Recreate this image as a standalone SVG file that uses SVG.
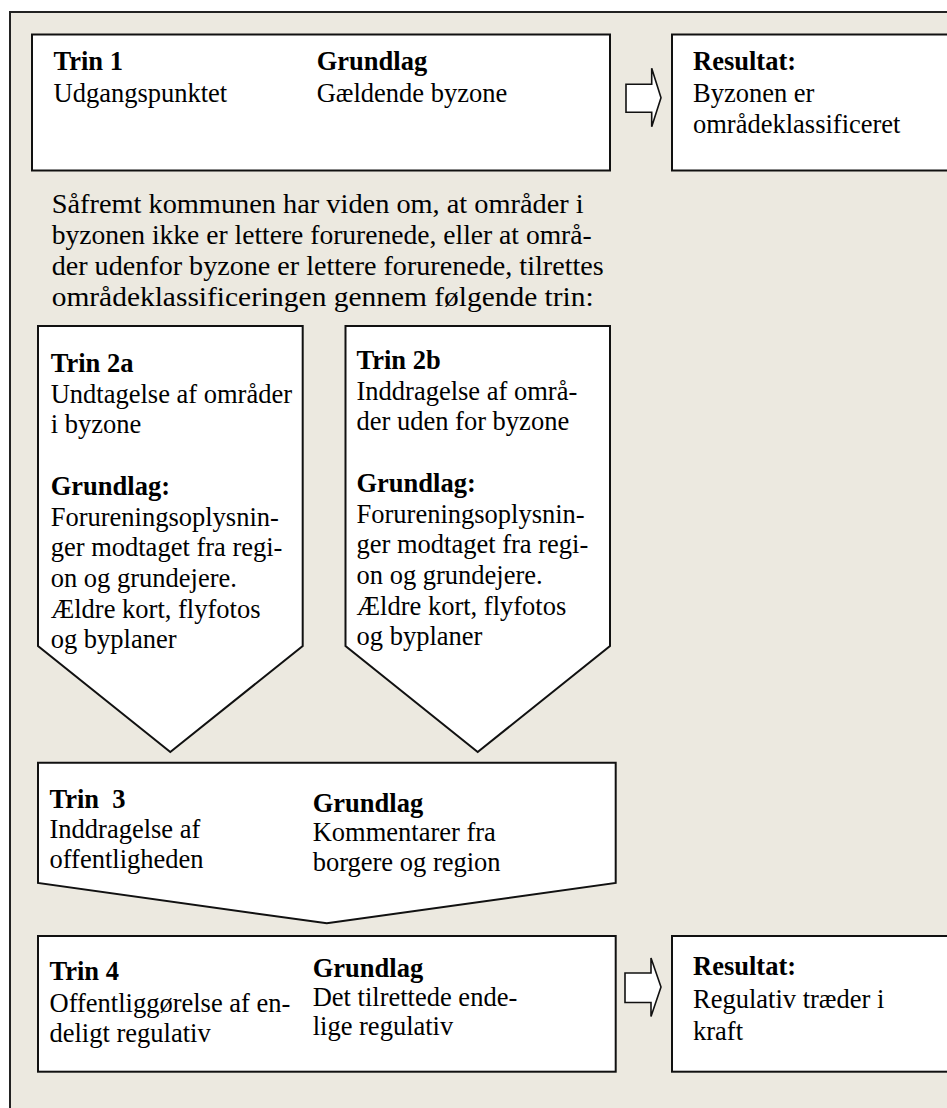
<svg xmlns="http://www.w3.org/2000/svg" width="947" height="1108" viewBox="0 0 947 1108">
<style>
.bg{fill:#ECE9E0;stroke:#222;stroke-width:2}
.box{fill:#fff;stroke:#111;stroke-width:2}
.arr{fill:#fff;stroke:#111;stroke-width:1.6;stroke-linejoin:miter}
text{font-family:"Liberation Serif","Times New Roman",serif;font-size:26.5px;fill:#000}
.b{font-weight:bold}
.p{font-size:27.5px}
</style>
<rect x="0" y="0" width="947" height="1108" fill="#fff"/>
<rect class="bg" x="10" y="12" width="1000" height="1200"/>

<g id="trin1">
<rect class="box" x="32" y="34.5" width="578" height="136"/>
<text class="b" x="53.5" y="70">Trin 1</text>
<text x="53.5" y="101.5">Udgangspunktet</text>
<text class="b" x="316.7" y="70">Grundlag</text>
<text x="316.7" y="101.5">Gældende byzone</text>
</g>

<g id="resultat1">
<rect class="box" x="672" y="34.5" width="400" height="136"/>
<text class="b" x="693" y="70">Resultat:</text>
<text x="693" y="101.5">Byzonen er</text>
<text x="693" y="133">områdeklassificeret</text>
</g>

<g id="tekst">
<text class="p" x="51.7" y="213" textLength="532" lengthAdjust="spacingAndGlyphs">Såfremt kommunen har viden om, at områder i</text>
<text class="p" x="51.7" y="244" textLength="540" lengthAdjust="spacingAndGlyphs">byzonen ikke er lettere forurenede, eller at områ-</text>
<text class="p" x="51.7" y="275" textLength="552" lengthAdjust="spacingAndGlyphs">der udenfor byzone er lettere forurenede, tilrettes</text>
<text class="p" x="51.7" y="306" textLength="542" lengthAdjust="spacingAndGlyphs">områdeklassificeringen gennem følgende trin:</text>
</g>

<g id="trin2a">
<polygon class="box" points="38,326 302.7,326 302.7,646 170.3,752 38,646"/>
<text class="b" x="50.7" y="372">Trin 2a</text>
<text x="50.7" y="402.7">Undtagelse af områder</text>
<text x="50.7" y="433.4">i byzone</text>
<text class="b" x="50.7" y="494.8">Grundlag:</text>
<text x="50.7" y="525.5">Forureningsoplysnin-</text>
<text x="50.7" y="556.2">ger modtaget fra regi-</text>
<text x="50.7" y="586.9">on og grundejere.</text>
<text x="50.7" y="617.6">Ældre kort, flyfotos</text>
<text x="50.7" y="648.3">og byplaner</text>
</g>

<g id="trin2b">
<polygon class="box" points="345.5,326 610,326 610,646 477.7,752 345.5,646"/>
<text class="b" x="356.5" y="369">Trin 2b</text>
<text x="356.5" y="399.7">Inddragelse af områ-</text>
<text x="356.5" y="430.4">der uden for byzone</text>
<text class="b" x="356.5" y="491.8">Grundlag:</text>
<text x="356.5" y="522.5">Forureningsoplysnin-</text>
<text x="356.5" y="553.2">ger modtaget fra regi-</text>
<text x="356.5" y="583.9">on og grundejere.</text>
<text x="356.5" y="614.6">Ældre kort, flyfotos</text>
<text x="356.5" y="645.3">og byplaner</text>
</g>

<g id="trin3">
<polygon class="box" points="38,762.7 615.7,762.7 615.7,883 326.8,923.3 38,883"/>
<text class="b" x="49.5" y="808" xml:space="preserve">Trin  3</text>
<text x="49.5" y="838">Inddragelse af</text>
<text x="49.5" y="868">offentligheden</text>
<text class="b" x="312.7" y="811.7">Grundlag</text>
<text x="312.7" y="841">Kommentarer fra</text>
<text x="312.7" y="871">borgere og region</text>
</g>

<g id="trin4">
<rect class="box" x="38" y="936" width="577.7" height="135.7"/>
<text class="b" x="49.5" y="980">Trin 4</text>
<text x="49.5" y="1011.5">Offentliggørelse af en-</text>
<text x="49.5" y="1041.7">deligt regulativ</text>
<text class="b" x="312.7" y="976.7">Grundlag</text>
<text x="312.7" y="1005.5">Det tilrettede ende-</text>
<text x="312.7" y="1035">lige regulativ</text>
</g>

<g id="resultat2">
<rect class="box" x="672" y="936" width="400" height="135.7"/>
<text class="b" x="693" y="975">Resultat:</text>
<text x="693" y="1008">Regulativ træder i</text>
<text x="693" y="1040">kraft</text>
</g>

<g id="connectors">
<path class="arr" d="M626,84.3 H651.7 V68.3 L661,97.7 L651.7,126.7 V112.3 H626 Z"/>
<path class="arr" d="M625,973 H651 V958 L661,987 L651,1016.5 V1002.5 H625 Z"/>
</g>
</svg>
